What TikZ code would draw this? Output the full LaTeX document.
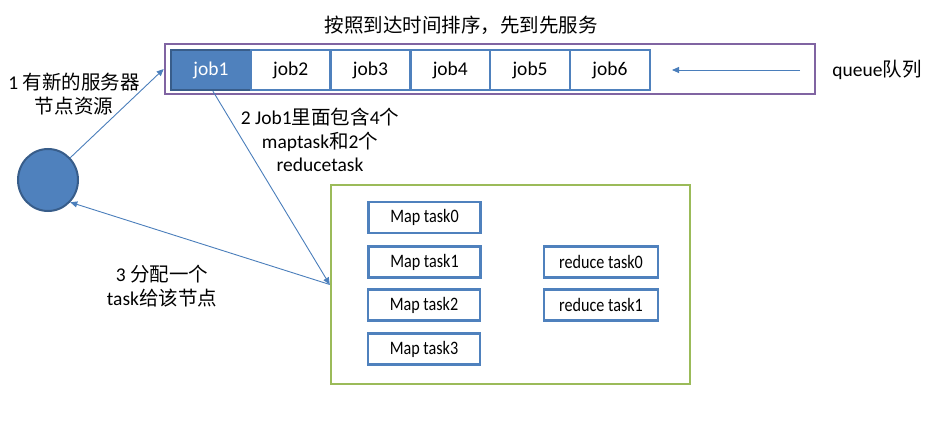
\documentclass[tikz,border=0pt]{standalone}
\usepackage{fontspec}
\setmainfont{Carlito}
\newfontfamily\cjk{Noto Sans CJK SC}
\usetikzlibrary{arrows.meta,shapes.geometric}
\newcommand{\zh}[1]{{\cjk #1}}
\newcommand{\tasktext}[1]{\scalebox{0.85}[1]{#1}}
\definecolor{qblue}{HTML}{4F81BD}
\definecolor{qdark}{HTML}{385D8A}
\definecolor{qline}{HTML}{4A7EBB}
\definecolor{qpurple}{HTML}{8064A2}
\definecolor{qgreen}{HTML}{9BBB59}
\tikzset{
  big/.style={font=\fontsize{19.5}{23.5}\selectfont},
  jobbox/.style={draw=qblue, line width=2.3pt, minimum width=79.8pt, minimum height=40pt, inner sep=0pt, big},
  taskbox/.style={draw=qblue, line width=2.7pt, minimum height=31pt, inner sep=0pt, font=\fontsize{19}{22}\selectfont},
  arr/.style={draw=qline, line width=0.9pt, -{Triangle[length=7pt,width=6pt]}},
  lbl/.style={big, align=center, inner sep=0pt},
}
\begin{document}
\begin{tikzpicture}[x=1pt,y=-1pt]
\useasboundingbox (0,0) rectangle (949,427);
\node[lbl] (title) at (461,25) {\zh{按照到达时间排序，先到先服务}};
\node[draw=qpurple, line width=2.6pt, minimum width=650pt, minimum height=50pt, inner sep=0pt] (queue) at (490,69) {};
\node[jobbox, fill=qblue, draw=qdark, text=white] (job1) at (210.9,70) {job1};
\node[jobbox] (job2) at (290.7,70) {job2};
\node[jobbox] (job3) at (370.5,70) {job3};
\node[jobbox] (job4) at (450.3,70) {job4};
\node[jobbox] (job5) at (530.1,70) {job5};
\node[jobbox] (job6) at (609.9,70) {job6};
\coordinate (qin) at (800,70);
\coordinate (qout) at (672,70);
\draw[arr] (qin) -- (qout);
\node[lbl] (qlabel) at (877,70) {queue\zh{队列}};
\node[ellipse, draw=qdark, fill=qblue, line width=2pt, minimum width=60pt, minimum height=62pt, inner sep=0pt] (circ) at (48,180) {};
\node[lbl] (l1) at (74,94) {1 \zh{有新的服务器}\\\zh{节点资源}};
\node[lbl] (l2) at (320,140) {2 Job1\zh{里面包含}4\zh{个}\\maptask\zh{和}2\zh{个}\\reducetask};
\node[lbl] (l3) at (162,286) {3 \zh{分配一个}\\task\zh{给该节点}};
\node[draw=qgreen, line width=2.6pt, minimum width=359pt, minimum height=199pt, inner sep=0pt] (green) at (510.5,284.5) {};
\node[taskbox, minimum width=112pt] (m0) at (424.5,217.5) {\tasktext{Map task0}};
\node[taskbox, minimum width=112pt] (m1) at (424.5,262) {\tasktext{Map task1}};
\node[taskbox, minimum width=112pt] (m2) at (424,305) {\tasktext{Map task2}};
\node[taskbox, minimum width=112pt] (m3) at (424,349) {\tasktext{Map task3}};
\node[taskbox, minimum width=114pt] (r0) at (601,262) {\tasktext{reduce task0}};
\node[taskbox, minimum width=114pt] (r1) at (601,305) {\tasktext{reduce task1}};
\draw[arr] (circ.45) -- (queue.west);
\draw[arr] ([xshift=2pt]job1.south) -- (green.west);
\draw[arr] (green.west) -- (circ.-45);
\end{tikzpicture}
\end{document}
